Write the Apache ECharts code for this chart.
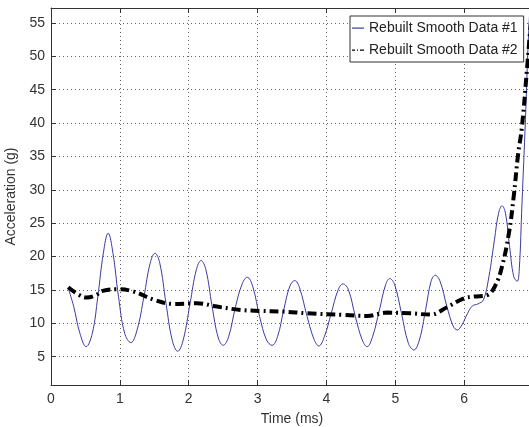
<!DOCTYPE html>
<html><head><meta charset="utf-8">
<script src="https://cdn.jsdelivr.net/npm/echarts@6/dist/echarts.min.js"></script>
<style>html,body{margin:0;padding:0;background:#fff}#c{width:529px;height:427px}</style>
</head><body><div id="c"></div>
<script>
const seriesNames = ['Rebuilt Smooth Data #1', 'Rebuilt Smooth Data #2'];
const yTicks = [5, 10, 15, 20, 25, 30, 35, 40, 45, 50, 55];
const t1 = [0.25,0.33,0.42,0.51,0.60,0.68,0.76,0.83,0.90,0.98,1.07,1.16,1.25,1.35,1.44,1.51,1.58,1.67,1.76,1.84,1.92,2.02,2.11,2.18,2.25,2.34,2.43,2.50,2.58,2.68,2.78,2.85,2.93,3.03,3.13,3.21,3.29,3.38,3.47,3.54,3.61,3.72,3.82,3.89,3.97,4.07,4.17,4.24,4.32,4.42,4.52,4.59,4.67,4.77,4.86,4.92,4.99,5.09,5.19,5.27,5.35,5.44,5.52,5.58,5.65,5.75,5.84,5.90,5.97,6.05,6.12,6.20,6.28,6.36,6.44,6.50,6.55,6.60,6.66,6.72,6.77,6.80,6.84,6.89,6.93,6.97];
const v1 = [15.3,12.5,8.5,6.5,8.5,14,20.5,23.5,20.5,14,8.5,7.1,9,14,19,20.5,19,13,7.5,5.8,7.5,13,18,19.4,18,12.5,7.8,6.7,8,12.5,16,16.9,15.5,11,7.5,6.7,8,12,15.6,16.4,15.3,11,7.6,6.6,8,11.5,15,15.9,15,11,7.5,6.5,8,12,15.8,16.7,15.8,11.5,7,6.0,7.5,12,16.3,17.2,16.3,12.5,9.6,9.0,9.8,11.5,12.6,12.9,13.5,17,22.5,26.5,27.6,26.5,21.5,17,16.3,18,28,40.5,52,60];
const t2 = [0.25,0.40,0.52,0.65,0.75,0.97,1.20,1.50,1.78,2.12,2.41,2.75,3.04,3.38,3.72,4.25,4.59,4.88,5.22,5.51,5.75,5.99,6.14,6.33,6.45,6.55,6.65,6.72,6.78,6.84,6.92,6.96,7.0];
const v2 = [15.4,14.3,13.85,14.2,14.85,15.1,14.75,13.5,12.9,13.0,12.5,12.0,11.85,11.75,11.5,11.25,11.1,11.6,11.5,11.3,12.4,13.7,14.0,14.2,15.6,18.5,23.5,29,35,39.5,49,54,58];

const font = 'Liberation Sans, Arial, sans-serif';
const axisCol = '#333';
const gridLine = {show: true, lineStyle: {color: '#666', type: [1, 3], width: 1}};

const chart = echarts.init(document.getElementById('c'), null, {renderer: 'canvas'});
chart.setOption({
  animation: false,
  backgroundColor: '#fff',
  grid: {left: 51, right: -4, top: 8, bottom: 42, containLabel: false, outerBoundsMode: 'none'},
  legend: {
    show: true,
    left: 350, top: 16, orient: 'vertical',
    padding: [5, 6, 5, 2], itemGap: 8, itemWidth: 12, itemHeight: 14,
    borderColor: '#333', borderWidth: 1, backgroundColor: '#fff',
    textStyle: {fontFamily: font, fontSize: 14, color: '#222'},
    data: [
      {name: seriesNames[0], icon: 'path://M0,0M12,14M0,6.5h12v1.2H0z'},
      {name: seriesNames[1], icon: 'path://M0,0M12,14M0,6.5h3v1.2H0zM5,6.5h1v1.2H5zM8,6.5h4v1.2H8z'}
    ]
  },
  xAxis: [{
    type: 'value', min: 0, max: 7, interval: 1,
    name: 'Time (ms)', nameLocation: 'middle', nameGap: 27,
    nameTextStyle: {fontFamily: font, fontSize: 14, color: '#333'},
    axisLine: {show: true, onZero: false, lineStyle: {color: axisCol}},
    axisTick: {show: true, inside: true, length: 5, lineStyle: {color: axisCol}},
    axisLabel: {fontFamily: font, fontSize: 14, color: '#333', margin: 7},
    splitLine: gridLine
  }, {
    type: 'value', min: 0, max: 7, interval: 1, position: 'top',
    axisLine: {show: true, onZero: false, lineStyle: {color: axisCol}},
    axisTick: {show: true, inside: true, length: 5, lineStyle: {color: axisCol}},
    axisLabel: {show: false}, splitLine: {show: false}
  }],
  yAxis: [{
    type: 'value', min: 0.75, max: 57.25,
    name: 'Acceleration (g)', nameLocation: 'middle', nameGap: 31, nameRotate: 90,
    nameTextStyle: {fontFamily: font, fontSize: 14, color: '#333'},
    axisLine: {show: true, onZero: false, lineStyle: {color: axisCol}},
    axisTick: {show: true, inside: true, length: 5, customValues: yTicks, lineStyle: {color: axisCol}},
    axisLabel: {fontFamily: font, fontSize: 14, color: '#333', margin: 6, customValues: yTicks},
    splitLine: gridLine
  }],
  series: [{
    name: seriesNames[0], type: 'line', showSymbol: false, symbol: 'none', smooth: 0.4,
    clip: true, itemStyle: {color: '#3b3ba0'},
    lineStyle: {color: '#3b3ba0', width: 1},
    data: t1.map((t, i) => [t, v1[i]]), z: 2
  }, {
    name: seriesNames[1], type: 'line', showSymbol: false, symbol: 'none', smooth: 0.4,
    clip: true, itemStyle: {color: '#000'},
    lineStyle: {color: '#000', width: 4, type: [9, 4, 2, 4]},
    data: t2.map((t, i) => [t, v2[i]]), z: 3
  }]
});
</script></body></html>
